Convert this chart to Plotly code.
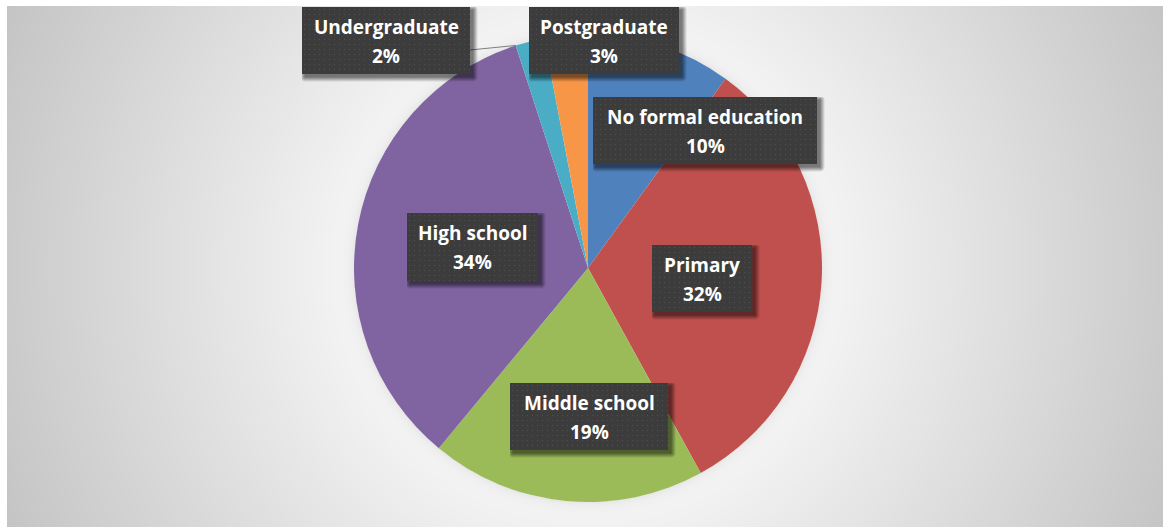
import base64
import struct
import zlib

import numpy as np
import plotly.graph_objects as go

# ---- data ----
categories = ["No formal education", "Primary", "Middle school",
              "High school", "Undergraduate", "Postgraduate"]
shares = [10, 32, 19, 34, 2, 3]

# ---- style ----
slice_colors = ["#4F81BD", "#C0504D", "#9BBB59", "#8064A2", "#4BACC6", "#F79646"]
W, H = 1163, 527
PIE_CX, PIE_CY, PIE_R = 588, 268, 234
BG_LEFT, BG_TOP = 7, 6
# label boxes: centre x, top y, width, height (pixels)
label_boxes = [
    (705, 97, 224, 67),
    (702, 245, 100, 67),
    (589, 383, 158, 67),
    (472.5, 213, 131, 68),
    (386, 7, 168, 67),
    (604, 7, 150, 67),
]
LABEL_FONT = dict(family="Open Sans", size=19, color="white", weight="bold")


def png_data_uri(arr):
    """Encode an HxWx(3|4) uint8 array as a PNG data URI (Sub filter)."""
    h, w, ch = arr.shape
    flat = arr.reshape(h, w * ch).astype(np.int16)
    filt = flat.copy()
    filt[:, ch:] = (flat[:, ch:] - flat[:, :-ch]) & 0xFF
    raw = b"".join(b"\x01" + row.astype(np.uint8).tobytes() for row in filt)

    def chunk(tag, data):
        return (struct.pack(">I", len(data)) + tag + data +
                struct.pack(">I", zlib.crc32(tag + data) & 0xFFFFFFFF))

    color_type = 6 if ch == 4 else 2
    png = (b"\x89PNG\r\n\x1a\n" +
           chunk(b"IHDR", struct.pack(">IIBBBBB", w, h, 8, color_type, 0, 0, 0)) +
           chunk(b"IDAT", zlib.compress(raw, 9)) +
           chunk(b"IEND", b""))
    return "data:image/png;base64," + base64.b64encode(png).decode()


def px_x(x):
    return x / W


def px_y(y):
    return 1 - y / H


# ---- radial grey background of the chart area ----
yy, xx = np.mgrid[BG_TOP:H, BG_LEFT:W].astype(float) + 0.5
dist = np.hypot(xx - PIE_CX, yy - PIE_CY)
grey = np.clip(273 - 0.12 * dist, 0, 255)
grey -= np.where(dist > PIE_R, 14 * np.exp(-(dist - PIE_R) / 5.0), 0)
grey = np.clip(grey, 0, 255).astype(np.uint8)
bg_img = np.dstack([grey, grey, grey])

images = [dict(source=png_data_uri(bg_img), xref="paper", yref="paper",
               x=px_x(BG_LEFT), y=px_y(BG_TOP),
               sizex=(W - BG_LEFT) / W, sizey=(H - BG_TOP) / H,
               xanchor="left", yanchor="top", sizing="stretch", layer="below")]

# ---- dotted dark label boxes with a soft drop shadow ----
SH = 9
for cx, top, bw, bh in label_boxes:
    iw, ih = bw + SH, bh + SH
    img = np.zeros((ih, iw, 4), dtype=np.uint8)
    py, px = np.mgrid[0:ih, 0:iw].astype(float) + 0.5
    ox, oy = 3, 3
    dx = np.maximum(np.maximum(ox - px, px - (bw + ox)), 0)
    dy = np.maximum(np.maximum(oy - py, py - (bh + oy)), 0)
    d = np.hypot(dx, dy)
    alpha = np.clip(0.5 * (1 - d / 5.0), 0, 1)
    img[..., 3] = (alpha * 255).astype(np.uint8)
    box = np.full((bh, bw, 3), 0x3C, dtype=np.uint8)
    by, bx = np.mgrid[0:bh, 0:bw]
    dots = ((by % 5) == 2) & ((bx % 5) == 2)
    box[dots] = 0x50
    img[:bh, :bw, :3] = box
    img[:bh, :bw, 3] = 255
    left = cx - bw / 2
    images.append(dict(source=png_data_uri(img), xref="paper", yref="paper",
                       x=px_x(left), y=px_y(top), sizex=iw / W, sizey=ih / H,
                       xanchor="left", yanchor="top", sizing="stretch",
                       layer="above"))

# ---- pie ----
fig = go.Figure(go.Pie(
    labels=categories,
    values=shares,
    sort=False,
    direction="clockwise",
    rotation=0,
    marker=dict(colors=slice_colors, line=dict(width=0)),
    textinfo="none",
    hoverinfo="skip",
    showlegend=False,
    domain=dict(x=[px_x(PIE_CX - PIE_R), px_x(PIE_CX + PIE_R)],
                y=[px_y(PIE_CY + PIE_R), px_y(PIE_CY - PIE_R)]),
))

# ---- label text ----
total = sum(shares)
annotations = []
for name, val, (cx, top, bw, bh) in zip(categories, shares, label_boxes):
    pct = f"{round(100 * val / total)}%"
    for txt, off in ((name, 20), (pct, 49)):
        annotations.append(dict(text=txt, x=px_x(cx), y=px_y(top + off),
                                xref="paper", yref="paper", showarrow=False,
                                xanchor="center", yanchor="middle",
                                font=LABEL_FONT))

# ---- leader line from the Undergraduate label to its slice ----
ug = categories.index("Undergraduate")
start_frac = sum(shares[:ug]) / total
ang = 2 * np.pi * start_frac
tip_x = PIE_CX + PIE_R * np.sin(ang)
tip_y = PIE_CY - PIE_R * np.cos(ang)
ucx, utop, ubw, ubh = label_boxes[ug]
shapes = [dict(type="line", xref="paper", yref="paper",
               x0=px_x(ucx + ubw / 2), y0=px_y(utop + 43),
               x1=px_x(tip_x), y1=px_y(tip_y),
               line=dict(color="#7F7F7F", width=1), layer="below")]

fig.update_layout(
    width=W, height=H,
    margin=dict(l=0, r=0, t=0, b=0),
    paper_bgcolor="white",
    plot_bgcolor="white",
    images=images,
    annotations=annotations,
    shapes=shapes,
)

fig.write_html("out.html")
